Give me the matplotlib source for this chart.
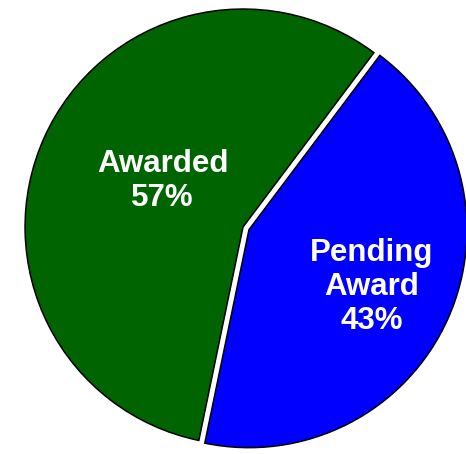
import matplotlib
matplotlib.use('Agg')
import matplotlib.pyplot as plt

#######################################################################
#                                Data                                 #
#######################################################################
labels = ['Awarded', 'Pending Award']
shares = [57, 43]
colors = ['#006400', '#0000FF']
explode = [0.0, 0.03]

#######################################################################
#                                Plot                                 #
#######################################################################
fig = plt.figure(figsize=(4.66, 4.54), dpi=100)
ax = fig.add_axes([0, 0, 1, 1])

wedges, _ = ax.pie(shares, colors=colors, explode=explode, startangle=53.1,
                   counterclock=True, radius=1.0,
                   wedgeprops=dict(edgecolor='black', linewidth=1.1))

# frame the pie like the original (pie sits left, clipped on the right)
ax.set_xlim(-1.115, 1.023)
ax.set_ylim(-1.041, 1.041)
ax.set_aspect('equal')
ax.axis('off')

text_pos = [(-0.369, 0.212), (0.592, -0.276)]
text_str = ['Awarded\n57%', 'Pending\nAward\n43%']
for (x, y), s in zip(text_pos, text_str):
    ax.text(x, y, s, ha='center', va='center', color='white',
            fontsize=22.5, fontweight='bold', family='Liberation Sans',
            linespacing=1.17)

fig.savefig('out.png', dpi=100)
